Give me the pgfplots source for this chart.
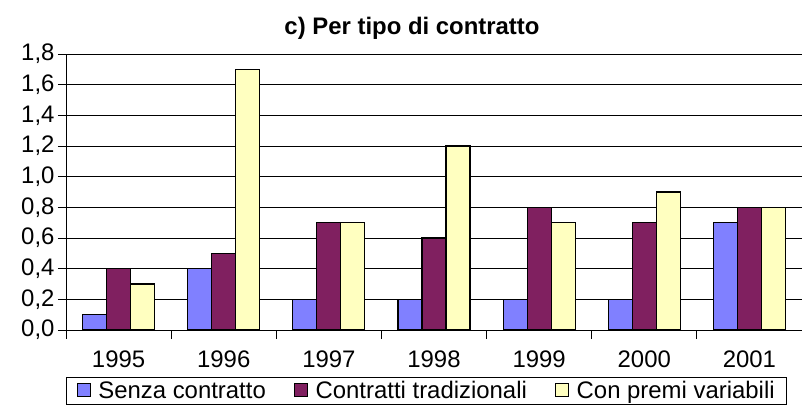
\documentclass[border=0pt]{standalone}
\usepackage{fontspec}
\setmainfont{Liberation Sans}
\usepackage{pgfplots}
\pgfplotsset{compat=1.18}
\definecolor{cA}{HTML}{8080FF}
\definecolor{cB}{HTML}{802060}
\definecolor{cC}{HTML}{FFFFC0}
\begin{document}
\begin{tikzpicture}
\begin{axis}[
  name=ax,
  scale only axis,
  width=736bp, height=276bp,
  ybar=0pt, bar width=24bp,
  xmin=-0.5, xmax=6.5,
  ymin=0, ymax=1.8,
  ytick={0,0.2,...,1.8},
  axis x line*=bottom, axis y line*=left,
  axis line style={line width=0.8pt, -},
  xtick={0,...,6},
  xticklabels={1995,1996,1997,1998,1999,2000,2001},
  minor xtick={-0.5,0.5,...,6.5},
  major x tick style={draw=none},
  minor tick length=9bp,
  major tick length=8bp,
  tick align=outside,
  tick style={black, line width=0.8pt},
  ymajorgrids, grid style={black, line width=0.7pt},
  yticklabel style={/pgf/number format/.cd, fixed, fixed zerofill, precision=1, use comma},
  /pgf/number format/assume math mode=true,
  tick label style={font=\fontsize{24}{28}\selectfont},
  xticklabel style={yshift=-9bp},
  title={\textbf{c) Per tipo di contratto}},
  title style={font=\fontsize{24}{28}\selectfont, yshift=5bp, xshift=-22bp},
  legend columns=3,
  legend style={at={(0.49,-0.17)}, anchor=north, draw=black, line width=0.8pt,
    font=\fontsize{24}{28}\selectfont, inner xsep=10bp, inner ysep=2bp,
    /tikz/every odd column/.append style={column sep=6bp},
    /tikz/every even column/.append style={column sep=26bp}},
  legend image code/.code={\draw[#1, line width=0.8pt] (0bp,-6bp) rectangle (13bp,7bp);},
]
\addplot[fill=cA, draw=black, line width=1.1pt] coordinates {(0,0.1) (1,0.4) (2,0.2) (3,0.2) (4,0.2) (5,0.2) (6,0.7)};
\addplot[fill=cB, draw=black, line width=1.1pt] coordinates {(0,0.4) (1,0.5) (2,0.7) (3,0.6) (4,0.8) (5,0.7) (6,0.8)};
\addplot[fill=cC, draw=black, line width=1.1pt] coordinates {(0,0.3) (1,1.7) (2,0.7) (3,1.2) (4,0.7) (5,0.9) (6,0.8)};
\legend{Senza contratto, Contratti tradizionali, Con premi variabili}
\end{axis}
\pgfresetboundingbox
\path[use as bounding box] ([xshift=-66bp,yshift=-77bp]ax.south west) rectangle ([yshift=54bp]ax.north east);
\end{tikzpicture}
\end{document}
